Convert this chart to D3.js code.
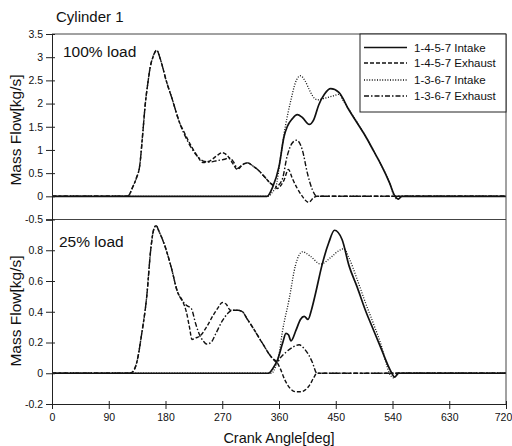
<!DOCTYPE html>
<html>
<head>
<meta charset="utf-8">
<style>
body { margin: 0; background: #fff; }
text { font-family: "Liberation Sans", Arial, sans-serif; fill: #111; }
.tick text { font-family: "Liberation Sans Narrow", "Liberation Sans", Arial, sans-serif; font-size: 10.5px; }
.frame { fill: none; stroke: #444; stroke-width: 1; }
.curve { fill: none; stroke: #111; stroke-linejoin: round; }
</style>
</head>
<body>
<svg width="512" height="446"></svg>
<script src="https://cdn.jsdelivr.net/npm/d3@7"></script>
<script>
// crank angle ticks
var angleTicks = [0, 90, 180, 270, 360, 450, 540, 630, 720];
var topTicks = [-0.5, 0, 0.5, 1, 1.5, 2, 2.5, 3, 3.5];
var botTicks = [-0.2, 0, 0.2, 0.4, 0.6, 0.8];

var seriesNames = ["1-4-5-7 Intake", "1-4-5-7 Exhaust", "1-3-6-7 Intake", "1-3-6-7 Exhaust"];

// 100% load, [angle, kg/s]
var full_in1457 = [[0,0],[341,0],[350,0.2],[360,0.64],[368,1.29],[373,1.5],[381,1.67],[389,1.76],[397,1.7],[408,1.55],[415,1.65],[423,1.97],[432,2.2],[442,2.32],[455,2.24],[471,1.86],[484,1.58],[497,1.3],[510,0.98],[523,0.65],[535,0.3],[544,0],[549,-0.06],[555,0],[720,0]];
var full_ex1457 = [[0,0],[120,0],[128,0.2],[134,0.4],[139,0.65],[144,1.37],[148,2.0],[152,2.44],[156,2.8],[160,3.0],[166,3.15],[172,2.95],[181,2.5],[191,2.08],[202,1.6],[210,1.37],[221,1.08],[231,0.86],[239,0.73],[250,0.76],[260,0.86],[270,0.94],[278,0.88],[286,0.72],[294,0.58],[302,0.68],[310,0.72],[320,0.64],[329,0.54],[337,0.42],[345,0.3],[353,0.22],[357,0.17],[368,0.35],[375,0.58],[381,0.39],[389,0.17],[397,0],[407,-0.13],[415,-0.03],[420,0],[720,0]];
var full_in1367 = [[0,0],[343,0],[350,0.1],[355,0.2],[362,0.8],[370,1.5],[379,2.08],[386,2.45],[394,2.6],[401,2.5],[408,2.3],[414,2.15],[421,2.08],[434,2.12],[445,2.16],[455,2.2],[462,2.06],[471,1.87],[484,1.59],[497,1.3],[510,0.98],[523,0.65],[535,0.3],[543,0],[548,-0.06],[555,0],[720,0]];
var full_ex1367 = [[0,0],[120,0],[128,0.2],[134,0.4],[139,0.65],[144,1.37],[148,2.0],[152,2.44],[156,2.8],[160,3.0],[166,3.15],[172,2.95],[181,2.5],[191,2.08],[202,1.6],[214,1.22],[224,0.98],[232,0.84],[240,0.76],[250,0.74],[262,0.77],[274,0.8],[281,0.83],[288,0.74],[294,0.6],[302,0.68],[310,0.72],[320,0.64],[329,0.54],[337,0.42],[345,0.3],[355,0.21],[365,0.36],[373,0.87],[381,1.15],[388,1.21],[397,1.0],[405,0.5],[413,0.14],[420,0],[720,0]];

// 25% load, [angle, kg/s]
var part_in1457 = [[0,0],[343,0],[350,0.03],[357,0.08],[366,0.2],[371,0.26],[375,0.25],[379,0.21],[387,0.28],[394,0.35],[400,0.37],[406,0.35],[412,0.42],[418,0.52],[428,0.7],[439,0.85],[448,0.93],[460,0.87],[471,0.7],[484,0.56],[497,0.41],[510,0.28],[523,0.15],[533,0.05],[539,0],[543,-0.025],[550,0],[720,0]];
var part_ex1457 = [[0,0],[122,0],[128,0.01],[135,0.08],[142,0.25],[150,0.49],[157,0.82],[161,0.93],[165,0.96],[170,0.92],[178,0.84],[189,0.69],[199,0.53],[207,0.47],[213,0.4],[218,0.3],[222,0.22],[228,0.23],[234,0.24],[245,0.3],[256,0.38],[264,0.43],[270,0.46],[276,0.45],[283,0.41],[295,0.41],[302,0.4],[310,0.35],[318,0.3],[333,0.2],[349,0.1],[357,0.07],[362,0.03],[370,-0.05],[378,-0.1],[386,-0.12],[395,-0.12],[401,-0.11],[408,-0.08],[415,-0.03],[420,0],[720,0]];
var part_in1367 = [[0,0],[348,0],[355,0.05],[360,0.12],[365,0.26],[376,0.48],[386,0.7],[392,0.77],[397,0.79],[410,0.76],[426,0.71],[444,0.76],[456,0.8],[463,0.81],[471,0.75],[484,0.61],[497,0.46],[510,0.32],[523,0.17],[531,0.05],[535,0],[542,-0.03],[548,0],[720,0]];
var part_ex1367 = [[0,0],[122,0],[128,0.01],[135,0.08],[142,0.25],[150,0.49],[157,0.82],[161,0.93],[165,0.96],[170,0.92],[178,0.84],[189,0.69],[199,0.53],[207,0.47],[214,0.44],[221,0.42],[228,0.32],[234,0.25],[240,0.21],[245,0.19],[252,0.2],[260,0.26],[270,0.34],[279,0.39],[286,0.41],[295,0.41],[302,0.4],[310,0.35],[318,0.3],[333,0.2],[349,0.1],[357,0.07],[362,0.1],[372,0.14],[382,0.17],[392,0.185],[400,0.16],[407,0.12],[413,0.07],[420,0],[720,0]];

var dashes = ["none", "4,2", "1,1.6", "5,2,1.5,2"];
var widths = [1.7, 1.4, 1.3, 1.4];

var svg = d3.select("svg");

var x = d3.scaleLinear().domain([0, 720]).range([52, 506]);
var yTop = d3.scaleLinear().domain([-0.5, 3.5]).range([219.5, 34]);
var yBot = d3.scaleLinear().domain([-0.2, 1.0]).range([404, 219.5]);

function panel(y, series) {
  var line = d3.line()
    .curve(d3.curveMonotoneX)
    .x(function(d) { return x(d[0]); })
    .y(function(d) { return y(d[1]); });

  svg.append("g").selectAll("path")
    .data(series)
    .enter().append("path")
    .attr("class", "curve")
    .attr("stroke-width", function(d, i) { return widths[i]; })
    .attr("stroke-dasharray", function(d, i) { return dashes[i]; })
    .attr("d", line);
}

panel(yTop, [full_in1457, full_ex1457, full_in1367, full_ex1367]);
panel(yBot, [part_in1457, part_ex1457, part_in1367, part_ex1367]);

// frame
svg.append("path").attr("class", "frame")
  .attr("d", "M" + x(0) + "," + yTop(3.5) + "H" + x(720) + "V" + yBot(-0.2));
svg.append("line").attr("class", "frame")
  .attr("x1", x(0)).attr("x2", x(720))
  .attr("y1", yTop(-0.5)).attr("y2", yTop(-0.5));

// axes
function styleAxis(g) {
  g.select(".domain").attr("stroke", "#222");
  g.selectAll(".tick line").attr("stroke", "#222");
}

svg.append("g")
  .attr("transform", "translate(" + x(0) + ",0)")
  .call(d3.axisLeft(yTop).tickValues(topTicks).tickSizeOuter(0).tickSize(6).tickPadding(3)
    .tickFormat(function(d) { return String(d); }))
  .call(styleAxis)
  .call(function(g) { g.selectAll(".tick line").attr("x1", 3); });

svg.append("g")
  .attr("transform", "translate(" + x(0) + ",0)")
  .call(d3.axisLeft(yBot).tickValues(botTicks).tickSizeOuter(0).tickSize(6).tickPadding(3)
    .tickFormat(function(d) { return String(d); }))
  .call(styleAxis)
  .call(function(g) { g.selectAll(".tick line").attr("x1", 3); });

svg.append("g")
  .attr("transform", "translate(0," + yBot(-0.2) + ")")
  .call(d3.axisBottom(x).tickValues(angleTicks).tickSizeOuter(0).tickSize(5).tickPadding(5))
  .call(styleAxis)
  .call(function(g) {
    g.selectAll(".tick line").attr("y1", -3);
    // last label sits at the window edge, nudge it in
    g.selectAll(".tick text").filter(function(d) { return d === 720; }).attr("dx", -3);
  });

// titles
svg.append("text").attr("x", 56).attr("y", 22).style("font-size", "15px").text("Cylinder 1");
svg.append("text").attr("x", 63).attr("y", 57).style("font-size", "15.5px").text("100% load");
svg.append("text").attr("x", 59).attr("y", 247).style("font-size", "15.5px").text("25% load");

svg.append("text").attr("x", 279).attr("y", 443).attr("text-anchor", "middle")
  .style("font-size", "14.5px").text("Crank Angle[deg]");

[[yTop, 130], [yBot, 311]].forEach(function(p) {
  svg.append("text")
    .attr("transform", "translate(21," + p[1] + ") rotate(-90)")
    .attr("text-anchor", "middle")
    .style("font-size", "15.5px")
    .text("Mass Flow[kg/s]");
});

// legend
var legend = svg.append("g");
legend.append("rect")
  .attr("x", 360).attr("y", yTop(3.5)).attr("width", x(720) - 360).attr("height", 78)
  .attr("fill", "#fff").attr("stroke", "#222").attr("stroke-width", 1);

var legendY = [47.5, 63, 80, 96];
var item = legend.selectAll("g.item")
  .data(seriesNames)
  .enter().append("g")
  .attr("class", "item")
  .attr("transform", function(d, i) { return "translate(0," + legendY[i] + ")"; });

item.append("line")
  .attr("x1", 364).attr("x2", 407)
  .attr("stroke", "#111")
  .attr("stroke-width", function(d, i) { return widths[i]; })
  .attr("stroke-dasharray", function(d, i) { return dashes[i]; });

item.append("text")
  .attr("x", 414).attr("dy", "0.35em")
  .style("font-size", "11.5px")
  .text(function(d) { return d; });
</script>
</body>
</html>
